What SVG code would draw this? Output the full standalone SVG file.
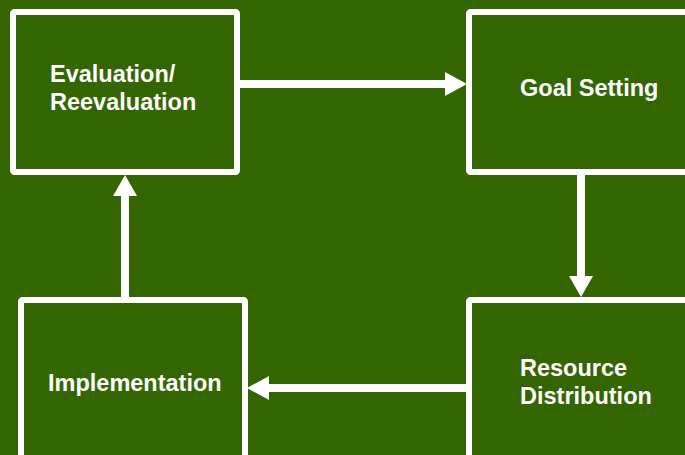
<svg xmlns="http://www.w3.org/2000/svg" width="685" height="455" viewBox="0 0 685 455">
<defs>
<style>
.box{fill:#336600;stroke:#ffffff;stroke-width:6;stroke-linejoin:round}
.lbl{fill:#ffffff;font-family:"Liberation Sans",Arial,sans-serif;font-weight:bold;font-size:23.5px}
.ln{stroke:#ffffff;stroke-width:8;fill:none}
.hd{fill:#ffffff}
</style>
</defs>
<rect width="685" height="455" fill="#336600"/>
<g id="evaluation">
<rect class="box" x="13" y="12" width="224" height="160" rx="1.5"/>
<text class="lbl" x="50" y="82">Evaluation/</text>
<text class="lbl" x="50" y="110">Reevaluation</text>
</g>
<g id="goal-setting">
<rect class="box" x="469" y="12" width="260" height="160" rx="1.5"/>
<text class="lbl" x="520" y="96">Goal Setting</text>
</g>
<g id="implementation">
<rect class="box" x="21" y="300" width="224" height="200" rx="1.5"/>
<text class="lbl" x="48" y="391">Implementation</text>
</g>
<g id="resource-distribution">
<rect class="box" x="469" y="300" width="260" height="200" rx="1.5"/>
<text class="lbl" x="520" y="376">Resource</text>
<text class="lbl" x="520" y="404">Distribution</text>
</g>
<g id="connectors">
<line class="ln" x1="240" y1="84" x2="447" y2="84"/>
<polygon class="hd" points="445,72 467,84 445,96"/>
<line class="ln" x1="581" y1="175" x2="581" y2="278"/>
<polygon class="hd" points="569,276 593,276 581,297"/>
<line class="ln" x1="466" y1="388" x2="267" y2="388"/>
<polygon class="hd" points="269,376 269,400 247,388"/>
<line class="ln" x1="125" y1="297" x2="125" y2="194"/>
<polygon class="hd" points="113,196 137,196 125,175"/>
</g>
</svg>
